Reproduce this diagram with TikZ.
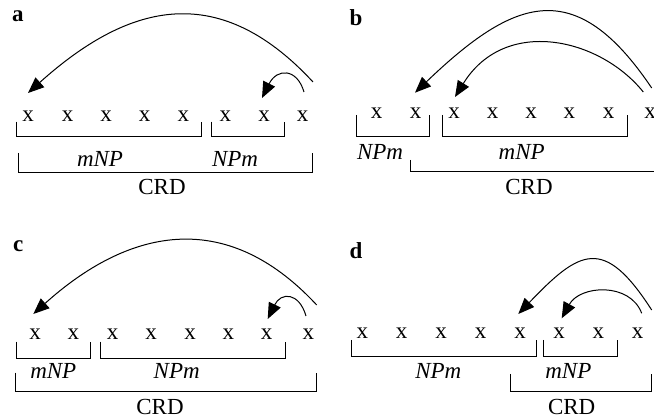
\documentclass[tikz,border=0pt]{standalone}
\usepackage{fontspec}
\setmainfont{Liberation Serif}
\usetikzlibrary{arrows.meta}
\tikzset{
  txt/.style={font=\fontsize{23}{27}\selectfont, inner sep=0pt, anchor=base},
  xx/.style={txt},
  it/.style={txt, font=\fontsize{23}{27}\selectfont\itshape},
  lab/.style={txt, font=\fontsize{23}{27}\selectfont\bfseries},
  brk/.style={line width=1pt},
  arr/.style={line width=1pt, -{Triangle[length=16pt,width=13pt]}},
}
\begin{document}
\begin{tikzpicture}[x=1pt,y=-1pt]
\useasboundingbox (0,0) rectangle (654,419);
% ---------------- panel a
\node[lab] (la) at (18,21.7) {a};
\foreach \i/\x in {1/28,2/67.7,3/106,4/144.7,5/183.3,6/225.3,7/264,8/302.7}
  \node[xx] (a\i) at (\x,121.7) {x};
\draw[brk] (16.7,121.7) |- (201.7,136.7) -- (201.7,121.7);
\draw[brk] (211,121.7) |- (284,136.7) -- (284,121.7);
\node[it] (amnp) at (100,166.7) {mNP};
\node[it] (anpm) at (235,166.7) {NPm};
\draw[brk] (18.3,153) |- (312.3,172.7) -- (312.3,153);
\node[txt] (acrd) at (162,195) {CRD};
\coordinate (as1) at (313,82);
\coordinate (at1) at (28,93);
\coordinate (as2) at (304,92);
\coordinate (at2) at (262,98);
\draw[arr] (as1) .. controls (216,-23) and (125,6) .. (at1);
\draw[arr] (as2) .. controls (297,68) and (277,68) .. (at2);
% ---------------- panel b
\node[lab] (lb) at (356,26) {b};
\foreach \i/\x in {1/376.7,2/415.7,3/454,4/492.7,5/531,6/569.3,7/608.7,8/650}
  \node[xx] (b\i) at (\x,118.3) {x};
\draw[brk] (356.7,115) |- (429.3,136.3) -- (429.3,115);
\draw[brk] (442.7,115) |- (627.3,136.3) -- (627.3,115);
\node[it] (bnpm) at (380,160) {NPm};
\node[it] (bmnp) at (521.7,160) {mNP};
\draw[brk] (410,160) |- (656,171.7);
\node[txt] (bcrd) at (529,195) {CRD};
\coordinate (bs1) at (651.7,88);
\coordinate (bt1) at (415,92.7);
\coordinate (bs2) at (643.3,92);
\coordinate (bt2) at (455,97);
\draw[arr] (bs1) .. controls (575,-26) and (514,-2) .. (bt1);
\draw[arr] (bs2) .. controls (600,38) and (505,16) .. (bt2);
% ---------------- panel c
\node[lab] (lc) at (18.3,251.7) {c};
\foreach \i/\x in {1/35,2/73.3,3/112.7,4/151,5/190,6/228.3,7/266.7,8/308.3}
  \node[xx] (c\i) at (\x,340) {x};
\draw[brk] (16,341.7) |- (90,358.3) -- (90,341.7);
\draw[brk] (100.7,341.7) |- (285.7,358.3) -- (285.7,341.7);
\node[it] (cmnp) at (53.3,378.3) {mNP};
\node[it] (cnpm) at (176.7,378.3) {NPm};
\draw[brk] (15.7,372.7) |- (316.7,391.7) -- (316.7,372.7);
\node[txt] (ccrd) at (160,415) {CRD};
\coordinate (cs1) at (316.7,305);
\coordinate (ct1) at (33.3,314);
\coordinate (cs2) at (306,316);
\coordinate (ct2) at (267.7,319);
\draw[arr] (cs1) .. controls (224,205) and (126,230.6) .. (ct1);
\draw[arr] (cs2) .. controls (299,292) and (281,292) .. (ct2);
% ---------------- panel d
\node[lab] (ld) at (356,258.3) {d};
\foreach \i/\x in {1/362.3,2/401.7,3/441,4/480.7,5/520,6/559,7/598.3,8/637.7}
  \node[xx] (d\i) at (\x,338.3) {x};
\draw[brk] (351.7,340) |- (536,356.7) -- (536,340);
\draw[brk] (543.3,340) |- (617.3,356.7) -- (617.3,340);
\node[it] (dnpm) at (438.3,378.3) {NPm};
\node[it] (dmnp) at (568.3,378.3) {mNP};
\draw[brk] (510,374) |- (651.7,391.7) -- (651.7,374);
\node[txt] (dcrd) at (571.7,415) {CRD};
\coordinate (ds1) at (651.7,310);
\coordinate (dt1) at (518.3,314);
\coordinate (ds2) at (641.7,313.3);
\coordinate (dt2) at (561.7,318.3);
\draw[arr] (ds1) .. controls (603.7,235.3) and (579.6,250) .. (dt1);
\draw[arr] (ds2) .. controls (630,282) and (580,285) .. (dt2);
\end{tikzpicture}
\end{document}
